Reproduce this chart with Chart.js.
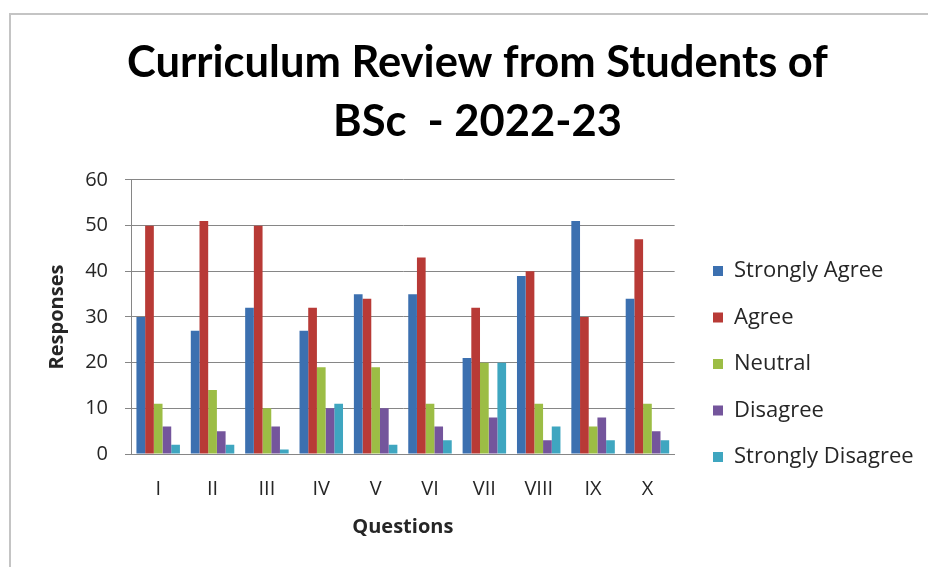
<!DOCTYPE html>
<html>
<head>
<meta charset="utf-8">
<script src="https://cdn.jsdelivr.net/npm/chart.js@4.4.1/dist/chart.umd.min.js"></script>
<style>
  html, body { margin: 0; padding: 0; background: #ffffff; }
  #wrap { position: relative; width: 928px; height: 567px; overflow: hidden; }
  #frame { position: absolute; left: 9px; top: 13px; width: 960px; height: 600px;
           border-left: 2px solid #c4c4c4; border-top: 2px solid #c4c4c4; pointer-events: none; }
  canvas { position: absolute; left: 0; top: 0; }
</style>
</head>
<body>
<div id="wrap">
  <canvas id="c" width="928" height="567"></canvas>
  <div id="frame"></div>
</div>
<script>
const categories = ['I', 'II', 'III', 'IV', 'V', 'VI', 'VII', 'VIII', 'IX', 'X'];
const seriesNames = ['Strongly Agree', 'Agree', 'Neutral', 'Disagree', 'Strongly Disagree'];
const stronglyAgree    = [30, 27, 32, 27, 35, 35, 21, 39, 51, 34];
const agree            = [50, 51, 50, 32, 34, 43, 32, 40, 30, 47];
const neutral          = [11, 14, 10, 19, 19, 11, 20, 11, 6, 11];
const disagree         = [6, 5, 6, 10, 10, 6, 8, 3, 8, 5];
const stronglyDisagree = [2, 2, 1, 11, 2, 3, 20, 6, 3, 3];
const yTicks = [0, 10, 20, 30, 40, 50, 60];
const titleLines = ['Curriculum Review from Students of', 'BSc  - 2022-23'];
const yTitle = 'Responses';
const xTitle = 'Questions';

const colors = ['#3c70b0', '#b83a36', '#9cbd45', '#74559c', '#3fa6c0'];
const values = [stronglyAgree, agree, neutral, disagree, stronglyDisagree];
const smallFont = 'Open Sans';
const legendPad = 24.5;

const shiftPlugin = {
  id: 'shiftPlugin',
  afterLayout(chart) {
    const lg = chart.legend;
    const DX = 713 - legendPad - lg.left; // legend column start
    const DY = 80.5;
    lg.left += DX; lg.right += DX; lg.top += DY; lg.bottom += DY;
    const t = chart.titleBlock;
    const TX = 477.5 - (t.left + t.right) / 2;
    t.left += TX; t.right += TX;
  }
};

new Chart(document.getElementById('c'), {
  type: 'bar',
  data: {
    labels: categories,
    datasets: seriesNames.map((name, i) => ({
      label: name,
      data: values[i],
      backgroundColor: colors[i],
      borderWidth: 0,
      categoryPercentage: 0.8,
      barPercentage: 1.0
    }))
  },
  plugins: [shiftPlugin],
  options: {
    responsive: false,
    animation: false,
    devicePixelRatio: 1,
    layout: { padding: { left: 0, right: 28.5, top: 0, bottom: 0 } },
    plugins: {
      tooltip: { enabled: false },
      title: {
        display: true,
        text: titleLines,
        color: '#000000',
        font: { family: 'Lato', size: 43.5, weight: 'bold', lineHeight: 1.356 },
        padding: { top: 33.5, bottom: 28.5 }
      },
      legend: {
        position: 'right',
        align: 'center',
        labels: {
          boxWidth: 10,
          boxHeight: 10,
          padding: legendPad,
          color: '#262626',
          font: { family: smallFont, size: 22 }
        }
      }
    },
    scales: {
      x: {
        grid: { display: false, drawTicks: false },
        border: { display: true, color: '#868686', width: 1 },
        ticks: { color: '#262626', padding: 23, font: { family: smallFont, size: 20 } },
        title: { display: true, text: xTitle, color: '#262626',
                 font: { family: smallFont, size: 20, weight: 'bold' }, padding: { top: 0, bottom: 28 } },
        afterFit(scale) { scale.height = 113; }
      },
      y: {
        min: 0, max: 60,
        afterBuildTicks(scale) { scale.ticks = yTicks.map(v => ({ value: v })); },
        grid: { color: '#868686', lineWidth: 1, drawTicks: true, tickLength: 6 },
        border: { display: true, color: '#868686', width: 1 },
        ticks: { color: '#262626', padding: 17, font: { family: smallFont, size: 20 } },
        title: { display: true, text: yTitle, color: '#262626',
                 font: { family: smallFont, size: 20, weight: 'bold' }, padding: { top: 45, bottom: 0 } },
        afterFit(scale) { scale.width = 131; }
      }
    }
  }
});
</script>
</body>
</html>
